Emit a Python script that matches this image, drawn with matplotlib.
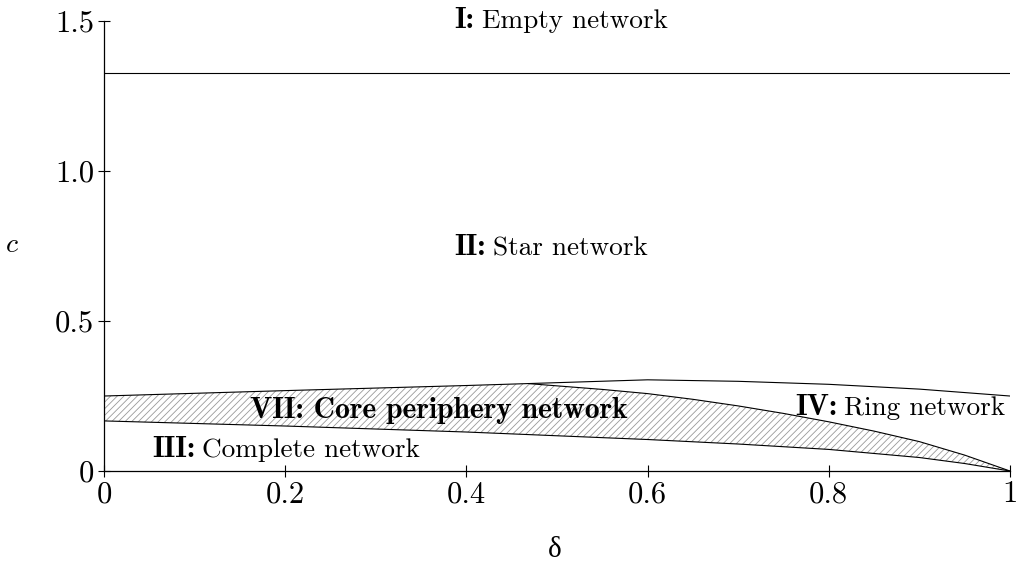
import matplotlib
matplotlib.use("Agg")
import matplotlib.pyplot as plt

plt.rcParams['mathtext.fontset'] = 'cm'
plt.rcParams['font.family'] = 'serif'
plt.rcParams['font.serif'] = ['cmr10']
plt.rcParams['axes.formatter.use_mathtext'] = True
plt.rcParams['hatch.linewidth'] = 0.6

# --------------- data --------------------------------------
# upper boundary of the star region (star / core / ring)
delta_top = [0.0, 0.2, 0.4, 0.6, 0.7, 0.8, 0.9, 1.0]
c_top = [0.25, 0.268, 0.285, 0.304, 0.299, 0.289, 0.273, 0.25]

# boundary between core periphery and ring
delta_cp = [0.47, 0.55, 0.6, 0.65, 0.7, 0.75, 0.8, 0.85, 0.9, 0.95, 1.0]
c_cp = [0.291, 0.272, 0.258, 0.239, 0.217, 0.192, 0.164, 0.133, 0.098, 0.053, 0.0]

# boundary between complete and core periphery
delta_low = [0.0, 0.2, 0.4, 0.6, 0.7, 0.8, 0.9, 0.95, 1.0]
c_low = [0.167, 0.150, 0.130, 0.105, 0.090, 0.072, 0.045, 0.025, 0.0]

# empty network threshold
c_empty = 1.327

x_ticks = [0, 0.2, 0.4, 0.6, 0.8, 1]
x_ticklabels = ['0', '0.2', '0.4', '0.6', '0.8', '1']
y_ticks = [0, 0.5, 1.0, 1.5]
y_ticklabels = ['0', '0.5', '1.0', '1.5']

# (bold part, normal part, left edge in delta, baseline c)
region_labels = [
    ('I:', 'Empty network', 0.387, 1.478),
    ('II:', 'Star network', 0.387, 0.72),
    ('III:', 'Complete network', 0.053, 0.047),
    ('IV:', 'Ring network', 0.763, 0.186),
    ('VII: Core periphery network', '', 0.161, 0.178),
]

fig = plt.figure(figsize=(10.21, 5.71), dpi=100)
ax = fig.add_axes([0.1019, 0.1751, 0.8873, 0.7881])

# hatched core periphery region
up_x = [d for d in delta_top if d < delta_cp[0]] + delta_cp
up_y = [c for d, c in zip(delta_top, c_top) if d < delta_cp[0]] + c_cp
poly_x = up_x + delta_low[::-1]
poly_y = up_y + c_low[::-1]
ax.fill(poly_x, poly_y, facecolor='white', edgecolor='#999999', hatch='/////', linewidth=0)

ax.plot(delta_top, c_top, color='black', lw=0.8)
ax.plot(delta_cp, c_cp, color='black', lw=0.8)
ax.plot(delta_low, c_low, color='black', lw=0.8)
ax.plot([0, 1], [c_empty, c_empty], color='black', lw=0.8)

ax.set_xlim(0, 1)
ax.set_ylim(0, 1.5)

renderer = fig.canvas.get_renderer()
fs = 19.6
for bold, rest, x, y in region_labels:
    t = ax.text(x, y, bold, ha='left', va='baseline', fontsize=21.3, family='cmb10')
    if rest:
        bb = t.get_window_extent(renderer)
        xr = ax.transData.inverted().transform((bb.x1 + 7, 0))[0]
        ax.text(xr, y, rest, ha='left', va='baseline', fontsize=fs)

ax.set_xticks(x_ticks)
ax.set_xticklabels(x_ticklabels)
ax.set_yticks(y_ticks)
ax.set_yticklabels(y_ticklabels)
ax.tick_params(direction='inout', length=8, width=0.8, labelsize=22, pad=3)
for s in ['top', 'right']:
    ax.spines[s].set_visible(False)
for s in ['left', 'bottom']:
    ax.spines[s].set_linewidth(0.9)

fig.text(12 / 1021, 1 - 245 / 571, r'$c$', ha='center', va='center', fontsize=20)
fig.text(555 / 1021, 1 - 550 / 571, 'δ', ha='center', va='center', fontsize=21,
         family='Liberation Serif')

fig.savefig('out.png', dpi=100)
